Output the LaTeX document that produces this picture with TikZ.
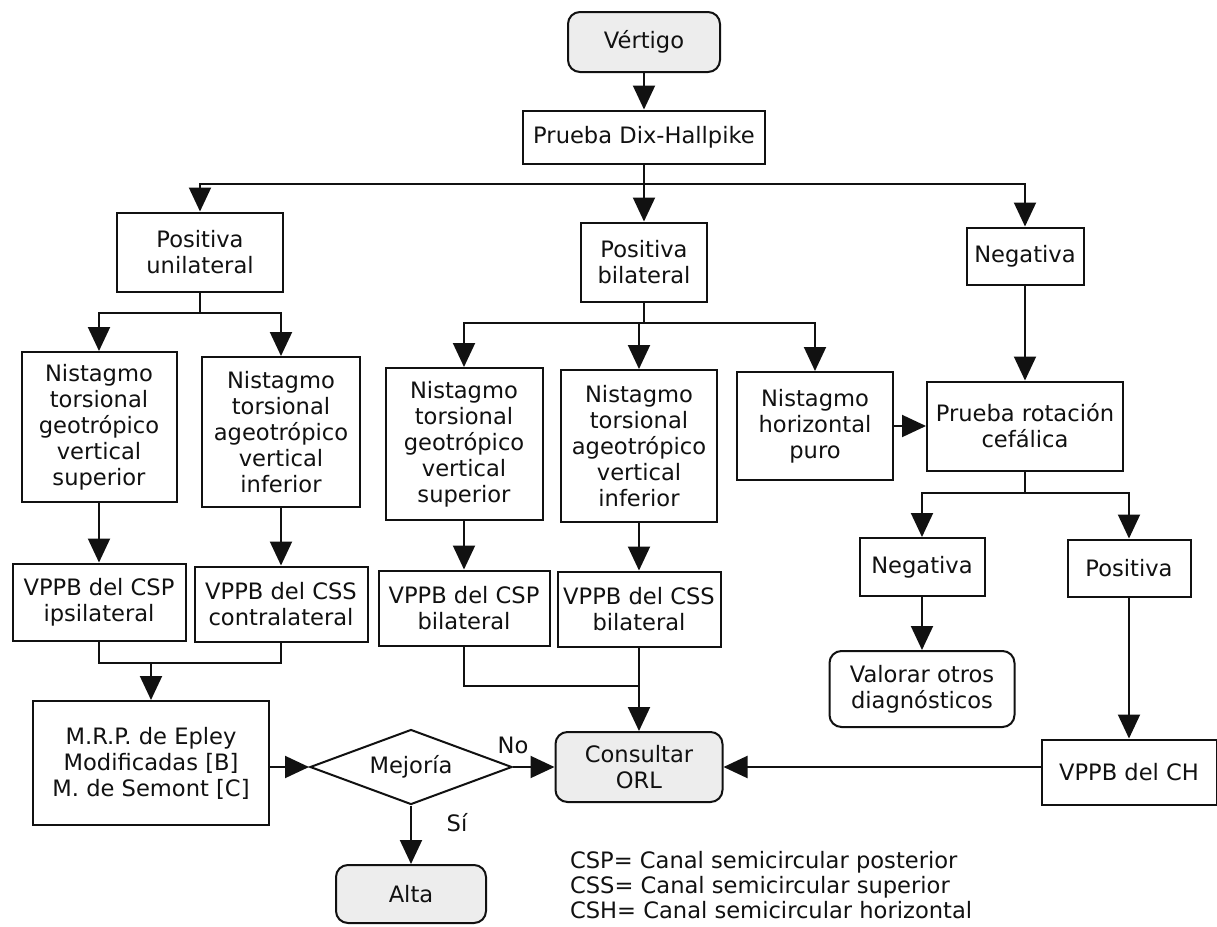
\documentclass[tikz,border=0pt]{standalone}
\usepackage{fontspec}
\setmainfont{DejaVu Sans}
\usetikzlibrary{shapes.geometric, arrows.meta, positioning, calc}
\definecolor{ink}{HTML}{111111}
\definecolor{termfill}{HTML}{EDEDED}

\begin{document}
\begin{tikzpicture}[
    x=0.5pt, y=-0.5pt,
    font=\fontsize{11.3}{13}\selectfont,
    box/.style={rectangle, draw=ink, line width=1pt, fill=white, align=center, inner sep=2pt, text=ink},
    terminal/.style={box, rounded corners=6pt, fill=termfill},
    decision/.style={diamond, draw=ink, line width=1pt, fill=white, align=center, inner sep=0pt, aspect=2.7, text=ink},
    arr/.style={-{Triangle[length=12pt, width=11pt]}, line width=1pt, draw=ink},
    conn/.style={line width=1pt, draw=ink},
]
    \useasboundingbox[fill=white] (0,0) rectangle (1217,927);

    % top
    \node[terminal, minimum width=76pt, minimum height=30pt] (vertigo) at (644,42) {Vértigo};
    \node[box, minimum width=121pt, minimum height=26.5pt] (dix) at (644,137) {Prueba Dix-Hallpike};
    \node[box, minimum width=83pt, minimum height=39.5pt] (posuni) at (200,252) {Positiva\\unilateral};
    \node[box, minimum width=63pt, minimum height=39.5pt] (posbil) at (644,262) {Positiva\\bilateral};
    \node[box, minimum width=58.5pt, minimum height=28.5pt] (neg) at (1025,256) {Negativa};

    % nistagmo
    \node[box, minimum width=77.5pt, minimum height=75pt] (nuni1) at (99,427) {Nistagmo\\torsional\\geotrópico\\vertical\\superior};
    \node[box, minimum width=79pt, minimum height=75pt] (nuni2) at (281,432) {Nistagmo\\torsional\\ageotrópico\\vertical\\inferior};
    \node[box, minimum width=78.5pt, minimum height=76pt] (nbil1) at (464,444) {Nistagmo\\torsional\\geotrópico\\vertical\\superior};
    \node[box, minimum width=78pt, minimum height=76pt] (nbil2) at (639,446) {Nistagmo\\torsional\\ageotrópico\\vertical\\inferior};
    \node[box, minimum width=78pt, minimum height=54pt] (nhor) at (815,426) {Nistagmo\\horizontal\\puro};
    \node[box, minimum width=98pt, minimum height=44.5pt] (rot) at (1025,426) {Prueba rotación\\cefálica};

    % VPPB
    \node[box, minimum width=86.5pt, minimum height=38.5pt] (csp) at (99,602) {VPPB del CSP\\ipsilateral};
    \node[box, minimum width=86.5pt, minimum height=37.5pt] (css) at (281,604) {VPPB del CSS\\contralateral};
    \node[box, minimum width=85.5pt, minimum height=37.5pt] (cspbil) at (464,608) {VPPB del CSP\\bilateral};
    \node[box, minimum width=81.5pt, minimum height=37.5pt] (cssbil) at (639,609) {VPPB del CSS\\bilateral};
    \node[box, minimum width=62.5pt, minimum height=29pt] (rotneg) at (922,567) {Negativa};
    \node[box, minimum width=61.5pt, minimum height=28.5pt] (rotpos) at (1129,568) {Positiva};
    \node[terminal, fill=white, minimum width=92.5pt, minimum height=38pt] (otros) at (922,689) {Valorar otros\\diagnósticos};
    \node[box, minimum width=87.5pt, minimum height=32.5pt] (ch) at (1129,772) {VPPB del CH};

    % bottom
    \node[box, minimum width=118pt, minimum height=62pt] (mrp) at (151,763) {M.R.P. de Epley\\Modificadas [B]\\M. de Semont [C]};
    \node[decision, minimum width=101pt, minimum height=37.5pt] (mejoria) at (411,767) {Mejoría};
    \node[terminal, minimum width=83.5pt, minimum height=35pt] (orl) at (639,767) {Consultar\\ORL};
    \node[terminal, minimum width=75pt, minimum height=29pt] (alta) at (411,894) {Alta};
    \node[anchor=west, align=left, font=\fontsize{11.3}{12.5}\selectfont, text=ink] (leyenda) at (563,885) {CSP= Canal semicircular posterior\\CSS= Canal semicircular superior\\CSH= Canal semicircular horizontal};

    \coordinate (bus1) at (644,184);
    \coordinate (bus2) at (200,313);
    \coordinate (bus3) at (644,323);
    \coordinate (bus4) at (1025,493);
    \coordinate (join1) at (151,663);
    \coordinate (join2) at (639,686);

    \draw[arr] (vertigo) -- (dix);
    \draw[conn] (dix) -- (bus1);
    \draw[arr] (bus1) -| (posuni);
    \draw[arr] (bus1) -- (posbil);
    \draw[arr] (bus1) -| (neg);

    \draw[conn] (posuni) -- (bus2);
    \draw[arr] (bus2) -| (nuni1);
    \draw[arr] (bus2) -| (nuni2);
    \draw[conn] (posbil) -- (bus3);
    \draw[arr] (bus3) -| (nbil1);
    \draw[arr] (bus3) -| (nbil2);
    \draw[arr] (bus3) -| (nhor);

    \draw[arr] (neg) -- (rot);
    \draw[arr] (nhor) -- (rot);
    \draw[conn] (rot) -- (bus4);
    \draw[arr] (bus4) -| (rotneg);
    \draw[arr] (bus4) -| (rotpos);
    \draw[arr] (rotneg) -- (otros);
    \draw[arr] (rotpos) -- (ch);

    \draw[arr] (nuni1) -- (csp);
    \draw[arr] (nuni2) -- (css);
    \draw[arr] (nbil1) -- (cspbil);
    \draw[arr] (nbil2) -- (cssbil);

    \draw[conn] (csp) |- (join1) -| (css);
    \draw[arr] (join1) -- (mrp);
    \draw[conn] (cspbil) |- (join2);
    \draw[arr] (cssbil) -- (orl);

    \draw[arr] (mrp.east |- mejoria.west) -- (mejoria.west);
    \draw[arr] (mejoria.east) -- node[pos=0, above=3pt, text=ink] {No} (orl.west);
    \draw[arr] (mejoria.south) -- node[pos=0.3, right=14pt, text=ink] {Sí} (alta.north);
    \draw[arr] (ch.west |- orl.east) -- (orl.east);
\end{tikzpicture}
\end{document}
